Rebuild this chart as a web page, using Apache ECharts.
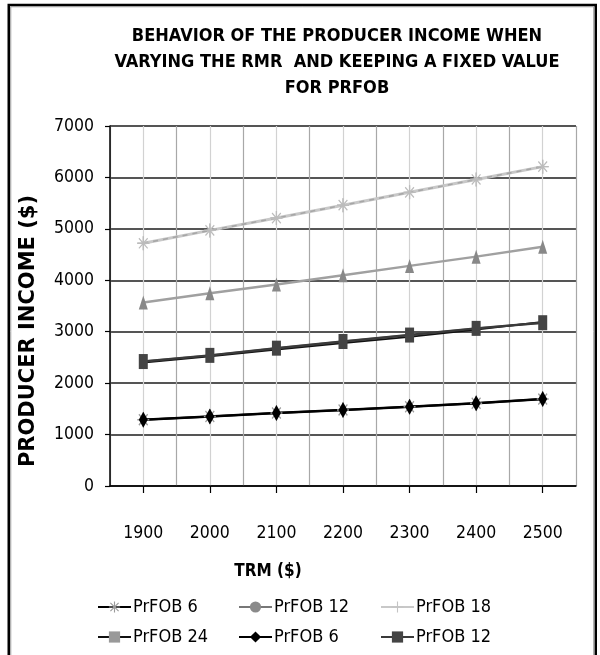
<!DOCTYPE html>
<html>
<head>
<meta charset="utf-8">
<script src="https://cdn.jsdelivr.net/npm/echarts@6/dist/echarts.min.js"></script>
<style>
html,body{margin:0;padding:0;background:#fff;}
#chart{width:600px;height:655px;}
</style>
</head>
<body>
<div id="chart"></div>
<script>
// ---- data ----
const categories = ['1900', '2000', '2100', '2200', '2300', '2400', '2500'];
const yTicks = [0, 1000, 2000, 3000, 4000, 5000, 6000, 7000];
const incomeDiamond = [1290, 1350, 1420, 1480, 1540, 1610, 1690];   // PrFOB 6 (diamond) / PrFOB 6 (asterisk)
const incomeSquare = [2420, 2540, 2680, 2810, 2935, 3065, 3175];    // PrFOB 12 (square) / PrFOB 12 (circle)
const incomeThin = [2400, 2520, 2650, 2780, 2900, 3040, 3190];      // PrFOB 24
const incomeTriangle = [3570, 3750, 3920, 4100, 4280, 4460, 4650];  // unlabelled triangle line
const incomeTop = [4720, 4970, 5210, 5460, 5710, 5960, 6210];       // PrFOB 18 (top line)
const legendNames = ['PrFOB 6', 'PrFOB 12', 'PrFOB 18', 'PrFOB 24', 'PrFOB 6 ', 'PrFOB 12 '];

const NARROW = "'Liberation Sans Narrow', 'Arial Narrow', 'DejaVu Sans Condensed', sans-serif";
const ASTERISK = 'path://M4.5,0h1v10h-1z M0,4.5h10v1h-10z M1,1.7 L1.7,1 L9,8.3 L8.3,9z M9,1.7 L1.7,9 L1,8.3 L8.3,1z';
const PLUS = 'path://M4.5,0h1v10h-1z M0,4.5h10v1h-10z';

const chart = echarts.init(document.getElementById('chart'), null, {renderer: 'canvas'});

function legendCol(left, names) {
  return {
    orient: 'vertical', left: left, top: 593, itemGap: 12,
    itemWidth: 33, itemHeight: 14, selectedMode: false,
    data: names,
    formatter: n => n.trim(),
    textStyle: {fontFamily: NARROW, fontSize: 18, color: '#000', padding: [0, 0, 0, -3]}
  };
}

const option = {
  animation: false,
  backgroundColor: '#fff',
  title: {
    text: 'BEHAVIOR OF THE PRODUCER INCOME WHEN\nVARYING THE RMR  AND KEEPING A FIXED VALUE\nFOR PRFOB',
    left: 332, top: 18, textAlign: 'center',
    textStyle: {fontFamily: NARROW, fontWeight: 'bold', fontSize: 18, lineHeight: 26, color: '#000'}
  },
  legend: [
    legendCol(92, [legendNames[0], legendNames[3]]),
    legendCol(233, [legendNames[1], legendNames[4]]),
    legendCol(375, [legendNames[2], legendNames[5]])
  ],
  grid: {left: 110, right: 24, top: 126, bottom: 169, containLabel: false},
  xAxis: [
    {
      type: 'value', min: 1850, max: 2550, interval: 50, position: 'top',
      axisLine: {show: false}, axisTick: {show: false}, axisLabel: {show: false},
      splitLine: {show: true, lineStyle: {color: ['#a8a8a8', '#d2d2d2'], width: 1.2}}
    },
    {
      type: 'category', data: categories, boundaryGap: true, position: 'bottom',
      axisLine: {show: true, lineStyle: {color: '#000', width: 1.5}},
      axisTick: {show: true, alignWithLabel: true, length: 7, lineStyle: {color: '#000', width: 1.2}},
      axisLabel: {margin: 38, fontFamily: NARROW, fontSize: 17.5, color: '#000'},
      splitLine: {show: false}
    }
  ],
  yAxis: {
    type: 'value', min: yTicks[0], max: yTicks[yTicks.length - 1], interval: 1000,
    axisLine: {show: true, lineStyle: {color: '#000', width: 1.5}},
    axisTick: {show: true, length: 5, lineStyle: {color: '#000', width: 1.2}},
    axisLabel: {margin: 16, fontFamily: NARROW, fontSize: 17.5, color: '#000', formatter: v => String(v)},
    splitLine: {show: true, lineStyle: {color: '#555', width: 2}}
  },
  graphic: [
    {type: 'rect', silent: true, shape: {x: 8.75, y: 5, width: 587, height: 700},
     style: {fill: null, stroke: '#000', lineWidth: 2.5}},
    {type: 'rect', silent: true, shape: {x: 10.75, y: 6.75, width: 583, height: 700},
     style: {fill: null, stroke: '#999', lineWidth: 1}},
    {type: 'text', rotation: Math.PI / 2, x: 29, y: 331,
     style: {text: 'PRODUCER INCOME ($)', font: "bold 21px 'DejaVu Sans', sans-serif", fill: '#000',
             textAlign: 'center', textVerticalAlign: 'middle'}},
    {type: 'text', x: 268, y: 572,
     style: {text: 'TRM ($)', font: "bold 17px " + NARROW, fill: '#000',
             textAlign: 'center', textVerticalAlign: 'middle'}}
  ],
  series: [
    {name: legendNames[1], type: 'line', xAxisIndex: 1, data: incomeSquare,
     symbol: 'circle', symbolSize: 7, itemStyle: {color: '#8a8a8a'},
     lineStyle: {color: '#777', width: 2}},
    {name: legendNames[3], type: 'line', xAxisIndex: 1, data: incomeThin,
     symbol: 'rect', symbolSize: [5, 4], itemStyle: {color: '#999'},
     lineStyle: {color: '#111', width: 1.8}},
    {name: legendNames[5], type: 'line', xAxisIndex: 1, data: incomeSquare,
     symbol: 'rect', symbolSize: [9, 15], itemStyle: {color: '#444'},
     lineStyle: {color: '#3a3a3a', width: 2.5}},
    {name: 'Series 7', type: 'line', xAxisIndex: 1, data: incomeTriangle,
     symbol: 'triangle', symbolSize: [9, 14], itemStyle: {color: '#888'},
     lineStyle: {color: '#a0a0a0', width: 2.5}},
    {name: legendNames[2], type: 'line', xAxisIndex: 1, data: incomeTop,
     symbol: PLUS, symbolSize: [12, 14], itemStyle: {color: '#c4c4c4'},
     lineStyle: {color: '#c8c8c8', width: 3}},
    {name: 'Series 8', type: 'line', xAxisIndex: 1, data: incomeTop,
     symbol: ASTERISK, symbolSize: [12, 14], itemStyle: {color: '#bcbcbc'},
     lineStyle: {color: '#a6a6a6', width: 1.6, type: [5, 5]}},
    {name: legendNames[0], type: 'line', xAxisIndex: 1, data: incomeDiamond,
     symbol: ASTERISK, symbolSize: [12, 15], itemStyle: {color: '#9a9a9a'},
     lineStyle: {color: '#000', width: 2}},
    {name: legendNames[4], type: 'line', xAxisIndex: 1, data: incomeDiamond,
     symbol: 'diamond', symbolSize: [9, 16], itemStyle: {color: '#000'},
     lineStyle: {color: '#000', width: 2.5}}
  ]
};
chart.setOption(option);
</script>
</body>
</html>
